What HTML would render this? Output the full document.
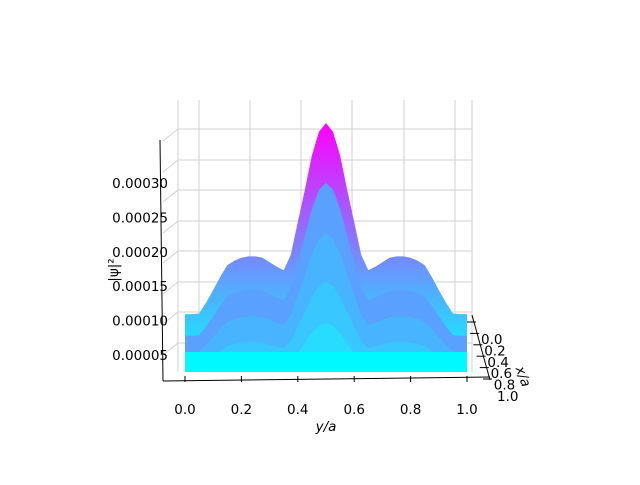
<!DOCTYPE html>
<html><head><meta charset="utf-8"><style>
body{margin:0;background:#fff}
svg text{font-family:"DejaVu Sans","Liberation Sans",sans-serif;font-size:13.5px;fill:#000}
</style></head><body>
<svg width="640" height="480" viewBox="0 0 640 480">
<defs>
<linearGradient id="cool" gradientUnits="userSpaceOnUse" x1="0" y1="372" x2="0" y2="123">
<stop offset="0" stop-color="#00ffff"/><stop offset="1" stop-color="#ff00ff"/>
</linearGradient>
</defs>
<g id="panes"></g>
<g id="surf"></g>
<g id="axes"></g>
<script>
const yTicks=[0.0,0.2,0.4,0.6,0.8,1.0];
const yTickLabels=["0.0","0.2","0.4","0.6","0.8","1.0"];
const zTicks=[0.00030,0.00025,0.00020,0.00015,0.00010,0.00005];
const zTickLabels=["0.00030","0.00025","0.00020","0.00015","0.00010","0.00005"];
const xTickLabels=["0.0","0.2","0.4","0.6","0.8","1.0"];
const profileY=[0,0.025,0.05,0.075,0.1,0.125,0.15,0.175,0.2,0.225,0.25,0.275,0.3,0.325,0.35,0.375,0.4,0.425,0.45,0.475,0.5,0.525,0.55,0.575,0.6,0.625,0.65,0.675,0.7,0.725,0.75,0.775,0.8,0.825,0.85,0.875,0.9,0.925,0.95,0.975,1.0];
const profileZ=[0.79,0.79,0.8,0.95,1.12,1.3,1.46,1.52,1.56,1.58,1.58,1.56,1.50,1.44,1.39,1.6,2.05,2.49,2.96,3.28,3.4,3.28,2.96,2.49,2.05,1.6,1.39,1.44,1.50,1.56,1.58,1.58,1.56,1.52,1.46,1.3,1.12,0.95,0.8,0.79,0.79];
const NS="http://www.w3.org/2000/svg";
function sx(v){return 185+v*282;}
function sz(v){return 372-v*73.2;}
function zt(v){return 183+(0.00030-v)/0.00005*34.4;}
function mk(p,tag,attrs){const e=document.createElementNS(NS,tag);for(const k in attrs)e.setAttribute(k,attrs[k]);p.appendChild(e);return e;}
const panes=document.getElementById('panes');
[129,160,190,221,251,282,312,343].forEach(y=>{const l=mk(panes,'line',{x1:178,y1:y,x2:472,y2:y,stroke:'#d0d0d0','stroke-width':1});

mk(panes,'line',{x1:163,y1:y+12,x2:178,y2:y,stroke:'#d0d0d0','stroke-width':1});});
[178,199,250,301,352,404,455,472].forEach(x=>{const l=mk(panes,'line',{x1:x,y1:100,x2:x,y2:372,stroke:'#d0d0d0','stroke-width':1});
});
const surf=document.getElementById('surf');
function poly(scale,shift,fill,name){let d=`M${sx(0)},372`;
profileY.forEach((y,i)=>{d+=` L${sx(y)},${Math.min(372,sz(profileZ[i]*scale)+shift)}`;});
d+=` L${sx(1)},372 Z`;const p=mk(surf,'path',{d:d,fill:fill});
}
poly(1,0,'url(#cool)','surface-silhouette');
const layers=[[0.8,10,'#5aa0ff'],[0.62,16,'#48b4ff'],[0.45,22,'#38c8ff'],[0.3,26,'#28dcff'],[0.16,28,'#14eeff']];
layers.forEach(L=>poly(L[0],L[1],L[2],'surface-row'));
const fr=mk(surf,'rect',{x:sx(0),y:352,width:282,height:20,fill:'#00f8ff'});

const ax=document.getElementById('axes');
mk(ax,'line',{x1:163,y1:381,x2:490,y2:377,stroke:'#000','stroke-width':1});
mk(ax,'line',{x1:163,y1:381,x2:160,y2:140,stroke:'#000','stroke-width':1});
mk(ax,'line',{x1:472,y1:315,x2:490,y2:380,stroke:'#000','stroke-width':1});
yTicks.forEach((v,i)=>{mk(ax,'line',{x1:sx(v),y1:376,x2:sx(v),y2:382,stroke:'#000'});
const t=mk(ax,'text',{x:sx(v),y:414,'text-anchor':'middle'});t.textContent=yTickLabels[i];
});
zTicks.forEach((v,i)=>{const t=mk(ax,'text',{x:168,y:zt(v)+5,'text-anchor':'end'});t.textContent=zTickLabels[i];
});
xTickLabels.forEach((s,i)=>{const x=481+i*3.2,y=344+i*11.4;
mk(ax,'line',{x1:x-14,y1:y-22,x2:x-5,y2:y-22,stroke:'#000'});
const t=mk(ax,'text',{x:x,y:y});t.textContent=s;
});
const yl=mk(ax,'text',{x:326,y:431,'text-anchor':'middle','font-style':'italic'});yl.textContent='y/a';

const xl=mk(ax,'text',{x:0,y:0,'text-anchor':'middle','font-style':'italic',transform:'translate(519,378) rotate(70)'});xl.textContent='x/a';

const zl=mk(ax,'text',{x:0,y:0,'text-anchor':'middle',transform:'translate(118,270) rotate(-90)'});zl.textContent='|ψ|²';

</script>
</svg>
</body></html>
